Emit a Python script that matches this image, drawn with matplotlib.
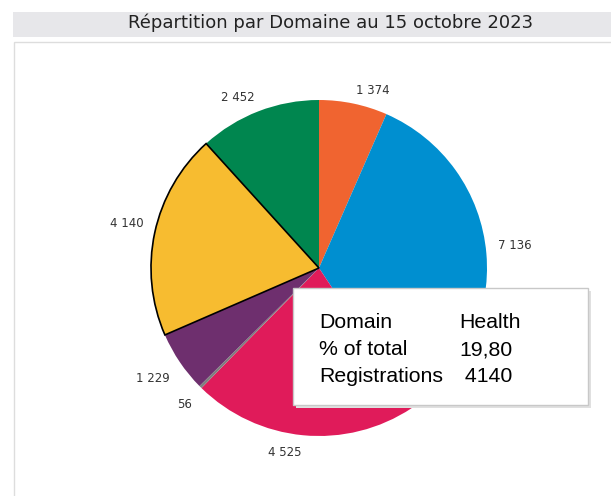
import matplotlib
matplotlib.use("Agg")
import numpy as np
import matplotlib.pyplot as plt
from matplotlib.patches import Rectangle

# data
domains = ['Orange', 'Blue', 'Crimson', 'Grey', 'Purple', 'Health', 'Green']
registrations = [1374, 7136, 4525, 56, 1229, 4140, 2452]
colors = ['#f06430', '#008fd0', '#e01b5a', '#7f7f7f', '#6e2f6e', '#f7bc30', '#00864f']

title = 'Répartition par Domaine au 15 octobre 2023'
tip_rows = [('Domain', 'Health'), ('% of total', '19,80'), ('Registrations', ' 4140')]

W, H = 611, 496
fig = plt.figure(figsize=(W / 100, H / 100), dpi=100)
ax = fig.add_axes([0, 0, 1, 1])

def py(y):
    # pixel row -> data y
    return H - y

cx, cy, r = 319, py(268), 168
labels = ['{:,}'.format(v).replace(',', ' ') for v in registrations]
wedges, texts = ax.pie(registrations, colors=colors, labels=labels,
                       startangle=90, counterclock=False,
                       center=(cx, cy), radius=r,
                       labeldistance=1.07,
                       wedgeprops=dict(linewidth=0),
                       textprops=dict(fontsize=8.5, color='#333333'))
# pie() aligns labels on absolute x, redo it relative to the centre
for t in texts:
    x, y = t.get_position()
    t.set_ha('left' if x > cx else 'right')
    c = abs(x - cx) / np.hypot(x - cx, y - cy)
    if y > cy:
        t.set_position((x, y + 7 * c))
    else:
        t.set_position((x, y - 5 - 6 * c))
# highlighted slice
wedges[5].set_edgecolor('black')
wedges[5].set_linewidth(1.2)
wedges[5].set_zorder(3)

ax.set_xlim(0, W)
ax.set_ylim(0, H)
ax.set_aspect('auto')
ax.axis('off')

# title bar and panel border
ax.add_patch(Rectangle((13, py(37)), W - 13, 25, facecolor='#e7e7ea',
                       edgecolor='none', zorder=0))
ax.text(331, py(23), title, ha='center', va='center', fontsize=13,
        color='#222222')
ax.add_patch(Rectangle((14, py(H + 5)), W, H + 5 - 42, facecolor='none',
                       edgecolor='#dddddd', linewidth=1, zorder=0))

# tooltip
ax.add_patch(Rectangle((296, py(408)), 295, 117, facecolor='#e0e0e0',
                       edgecolor='none', zorder=5))
ax.add_patch(Rectangle((293, py(405)), 295, 117, facecolor='white',
                       edgecolor='#c8c8c8', linewidth=1, zorder=6))
for i, (k, v) in enumerate(tip_rows):
    y = py(323 + i * 26.5)
    ax.text(319, y, k, ha='left', va='center', fontsize=15.3,
            family='Liberation Sans', color='black', zorder=7)
    ax.text(459, y, v, ha='left', va='center', fontsize=15.3,
            family='Liberation Sans', color='black', zorder=7)

fig.savefig('out.png', dpi=100)
